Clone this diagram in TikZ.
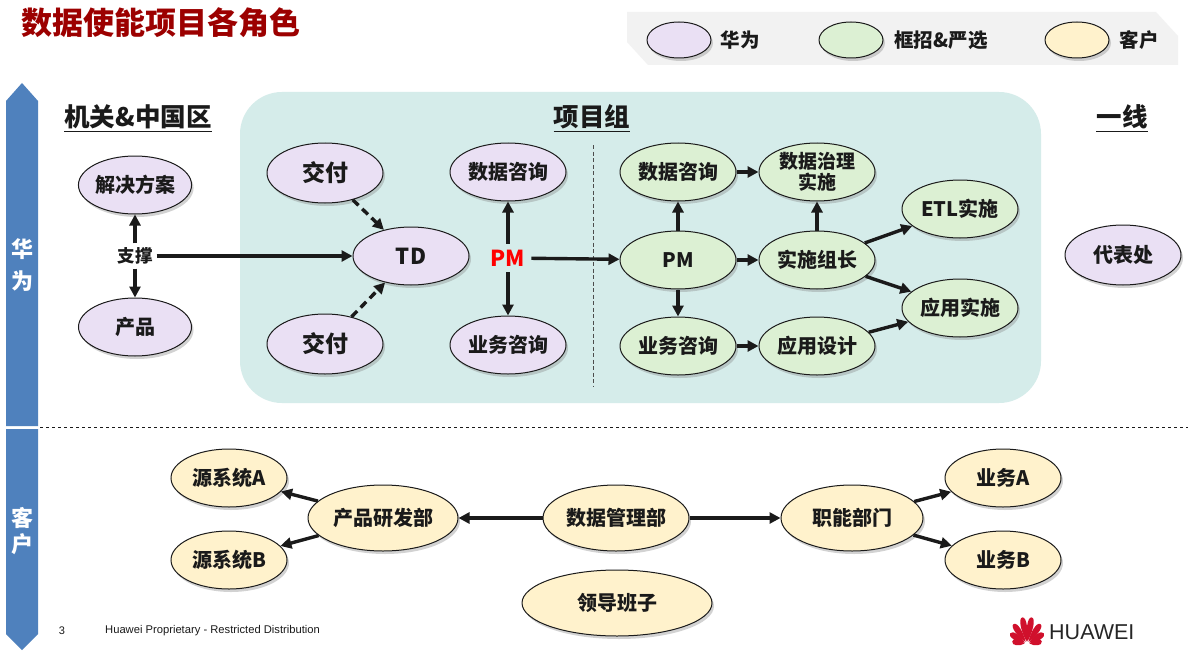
\documentclass[tikz,border=0pt]{standalone}
\usepackage{fontspec}
\setmainfont{Liberation Sans}
\newfontfamily\cjk{Noto Sans CJK SC}
\usetikzlibrary{shapes.geometric,arrows.meta,shadows}
\definecolor{hwpurple}{HTML}{EAE0F4}
\definecolor{hwgreen}{HTML}{DCF0D3}
\definecolor{hwyellow}{HTML}{FFF2CC}
\definecolor{hwteal}{HTML}{D5ECEA}
\definecolor{hwblue}{HTML}{4F81BD}
\definecolor{hwtitle}{HTML}{9C0000}
\definecolor{hwred}{HTML}{D0102C}
\definecolor{legendgray}{HTML}{F2F2F2}
\definecolor{ink}{HTML}{1A1A1A}
\tikzset{
  ell/.style={ellipse, draw=ink, line width=1pt, inner sep=0pt,
    minimum width=116pt, minimum height=58pt, text=ink,
    drop shadow={opacity=0.35, shadow xshift=2pt, shadow yshift=-3pt},
    font=\cjk\bfseries\fontsize{20}{23}\selectfont, align=center},
  pu/.style={ell, fill=hwpurple},
  gr/.style={ell, fill=hwgreen},
  ye/.style={ell, fill=hwyellow},
  lgell/.style={ellipse, draw=ink, line width=1pt, minimum width=64pt, minimum height=36pt,
    drop shadow={opacity=0.35, shadow xshift=2pt, shadow yshift=-3pt}},
  lgtxt/.style={font=\cjk\bfseries\fontsize{19.5}{22}\selectfont, text=ink, inner sep=0pt},
  head/.style={font=\cjk\bfseries\fontsize{25.5}{28}\selectfont, text=ink, inner sep=0pt},
  bartxt/.style={font=\cjk\bfseries\fontsize{22}{24}\selectfont, text=white, inner sep=0pt},
  arr/.style={-{Triangle[length=11pt,width=11pt]}, line width=3.4pt, draw=ink},
  darr/.style={arr, dash pattern=on 8pt off 5pt},
}
\begin{document}
\begin{tikzpicture}[x=1pt,y=-1pt]
\useasboundingbox (0,0) rectangle (1188,658);
\fill[white] (0,0) rectangle (1188,658);

% title
\node[font=\cjk\bfseries\fontsize{31}{33}\selectfont, text=hwtitle, anchor=west, inner sep=0pt] (title) at (21,23) {数据使能项目各角色};

% legend
\fill[legendgray] (627,12) -- (1156,12) -- (1178,36) -- (1178,65) -- (648,65) -- (627,42) -- cycle;
\node[lgell, fill=hwpurple] (lg1) at (679,40) {};
\node[lgtxt] (lgt1) at (740,40) {华为};
\node[lgell, fill=hwgreen] (lg2) at (851,40) {};
\node[lgtxt] (lgt2) at (941,40) {框招\&严选};
\node[lgell, fill=hwyellow] (lg3) at (1077,40) {};
\node[lgtxt] (lgt3) at (1139,40) {客户};

% left bar
\fill[hwblue] (6,426) -- (6,101) -- (22,83) -- (38,101) -- (38,426) -- cycle;
\fill[hwblue] (6,429) -- (38,429) -- (38,634) -- (22,650) -- (6,634) -- cycle;
\node[bartxt] (b1) at (22,249) {华};
\node[bartxt] (b2) at (22,281) {为};
\node[bartxt] (b3) at (22,518) {客};
\node[bartxt] (b4) at (22,544) {户};

% separator
\coordinate (sepL) at (40,427);
\coordinate (sepR) at (1188,427);
\draw[dashed, line width=0.8pt, draw=ink] (sepL) -- (sepR);

% project box
\fill[hwteal, rounded corners=42pt] (240,92) rectangle (1041,403);
\coordinate (vdT) at (593,145);
\coordinate (vdB) at (593,386);
\draw[dash pattern=on 4pt off 2.5pt, line width=0.6pt, draw=black!70] (vdT) -- (vdB);

% headings
\node[head] (h1) at (138,117) {机关\&中国区};
\draw[line width=1.3pt, ink] ([yshift=-2pt]h1.south west) -- ([yshift=-2pt]h1.south east);
\node[head] (h2) at (592,117) {项目组};
\draw[line width=1.3pt, ink] ([yshift=-2pt]h2.south west) -- ([yshift=-2pt]h2.south east);
\node[head] (h3) at (1122,117) {一线};
\draw[line width=1.3pt, ink] ([yshift=-2pt]h3.south west) -- ([yshift=-2pt]h3.south east);

% left group
\node[pu, minimum width=113pt] (jjfa) at (135,185) {解决方案};
\node[pu, minimum width=113pt] (cp) at (135,327) {产品};
\node[font=\cjk\bfseries\fontsize{17.5}{20}\selectfont, text=ink, inner sep=4pt] (zc) at (135,256) {支撑};

% project group left part
\node[pu, font=\cjk\bfseries\fontsize{23}{25}\selectfont, minimum height=60pt] (jf1) at (325,173) {交付};
\node[pu, font=\cjk\bfseries\fontsize{23}{25}\selectfont, minimum height=60pt] (jf2) at (325,344) {交付};
\node[pu, font=\cjk\bfseries\fontsize{22}{24}\selectfont] (td) at (411,256) {TD};
\node[pu] (sjzx1) at (508,172) {数据咨询};
\node[pu] (ywzx1) at (508,345) {业务咨询};
\node[font=\cjk\bfseries\fontsize{22}{24}\selectfont, text=red, inner sep=6pt] (pmr) at (508,258) {PM};

% project group right part
\node[gr] (sjzx2) at (678,172) {数据咨询};
\node[gr, font=\cjk\bfseries\fontsize{19}{21}\selectfont] (sjzl) at (817,172) {数据治理\\实施};
\node[gr] (pmg) at (678,260) {PM};
\node[gr] (sszz) at (817,260) {实施组长};
\node[gr] (ywzx2) at (678,346) {业务咨询};
\node[gr] (yysj) at (817,346) {应用设计};
\node[gr] (etl) at (960,209) {ETL实施};
\node[gr] (yyss) at (960,308) {应用实施};

% frontline
\node[pu, minimum height=60pt] (dbc) at (1123,255) {代表处};

% arrows upper
\draw[arr] (zc) -- (jjfa);
\draw[arr] (zc) -- (cp);
\draw[arr] (zc) -- (td);
\draw[darr] (jf1) -- (td);
\draw[darr] (jf2) -- (td);
\draw[arr] (pmr) -- (sjzx1);
\draw[arr] (pmr) -- (ywzx1);
\draw[arr] (pmr) -- (pmg);
\draw[arr] (pmg) -- (sjzx2);
\draw[arr] (pmg) -- (ywzx2);
\draw[arr] (pmg) -- (sszz);
\draw[arr] (sjzx2) -- (sjzl);
\draw[arr] (sszz) -- (sjzl);
\draw[arr] (sszz) -- (etl);
\draw[arr] (sszz) -- (yyss);
\draw[arr] (ywzx2) -- (yysj);
\draw[arr] (yysj) -- (yyss);

% customer part
\node[ye] (ya) at (229,478) {源系统A};
\node[ye] (yb) at (229,560) {源系统B};
\node[ye, minimum width=150pt, minimum height=66pt] (cpyf) at (383,518) {产品研发部};
\node[ye, minimum width=146pt, minimum height=66pt] (sjgl) at (616,518) {数据管理部};
\node[ye, minimum width=142pt, minimum height=66pt] (znbm) at (852,518) {职能部门};
\node[ye] (ywa) at (1003,478) {业务A};
\node[ye] (ywb) at (1003,560) {业务B};
\node[ye, minimum width=190pt, minimum height=66pt] (ldbz) at (617,603) {领导班子};

\draw[arr] (cpyf) -- (ya);
\draw[arr] (cpyf) -- (yb);
\draw[arr] (sjgl) -- (cpyf);
\draw[arr] (sjgl) -- (znbm);
\draw[arr] (znbm) -- (ywa);
\draw[arr] (znbm) -- (ywb);

% footer
\node[font=\fontsize{11}{13}\selectfont, text=ink, inner sep=0pt] (pg) at (62,631) {3};
\node[font=\fontsize{11.2}{13}\selectfont, text=ink, anchor=west, inner sep=0pt] (prop) at (105,631) {Huawei Proprietary - Restricted Distribution};

% huawei logo
\begin{scope}[shift={(1027,644)}]
\foreach \a/\l in {100/27, 124/24, 148/20, 170/15, 80/27, 56/24, 32/20, 10/15}{
  \fill[hwred, rotate=\a] (2.5,0) .. controls (0.45*\l,3.6) and (\l,4.6) .. (\l,0) .. controls (\l,-4.6) and (0.45*\l,-3.6) .. (2.5,0);
}
\end{scope}
\node[font=\fontsize{21.5}{24}\selectfont, text=black!85, anchor=west, inner sep=0pt] (hw) at (1049,632) {HUAWEI};
\end{tikzpicture}
\end{document}
